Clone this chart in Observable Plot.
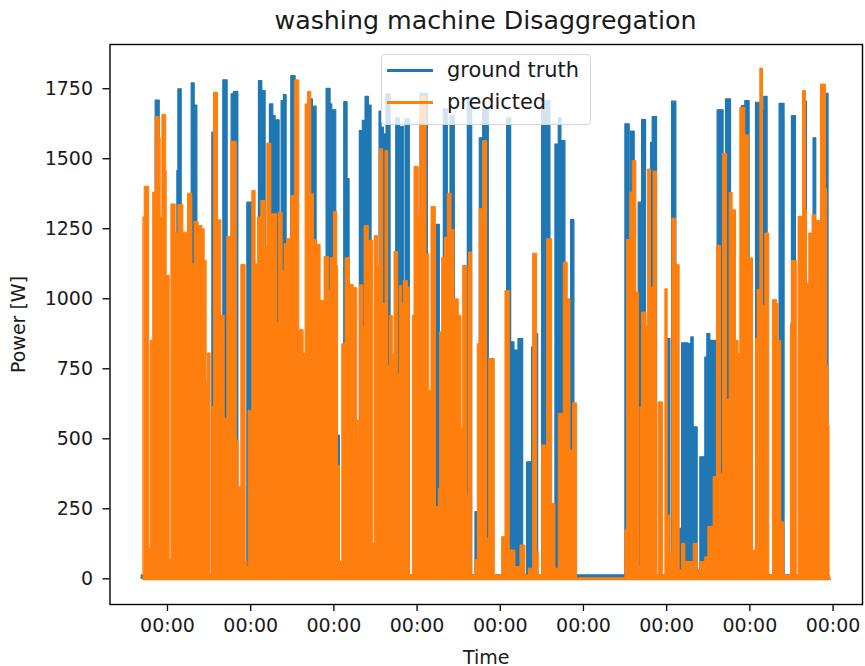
<!DOCTYPE html>
<html><head><meta charset="utf-8">
<script src="https://cdn.jsdelivr.net/npm/d3@7"></script>
<script src="https://cdn.jsdelivr.net/npm/@observablehq/plot@0.6"></script>
<style>
html,body{margin:0;padding:0;background:#fff;}
#wrap{position:relative;width:865px;height:666px;overflow:hidden;font-family:"DejaVu Sans",sans-serif;color:#1a1a1a;}
#title{position:absolute;left:109px;width:753px;top:7px;text-align:center;font-size:25.3px;line-height:28px;}
#legend{position:absolute;left:381px;top:54px;width:208px;height:69px;background:rgba(255,255,255,.8);border:1px solid #d5d5d5;border-radius:4px;font-size:20.9px;}
#legend span{position:absolute;left:65px;line-height:24px;white-space:nowrap;}
#legend i{position:absolute;left:5px;width:46px;height:2.6px;}
</style></head><body>
<div id="wrap"><div id="title">washing machine Disaggregation</div><div id="chart"></div>
<div id="legend"><i style="top:14px;background:#1f77b4"></i><span style="top:3px">ground truth</span><i style="top:46px;background:#ff7f0e"></i><span style="top:35px">predicted</span></div></div>
<script>
// sample counter: one reading every 17.3 minutes; counter 24.8 is the first midnight
const samplesPerDay = 83.25, firstMidnight = 24.8;
const seriesNames = ["ground truth", "predicted"];
const yTicks = [0,250,500,750,1000,1250,1500,1750];

const truthSample = [-1,13,17,34.7,35.7,39,49,52,54.7,69.7,71.3,80.7,85,89,91.3,95.7,104.7,109.7,116.3,119.7,123,127.3,130.7,133,137,139,141.3,144,148.7,153,168,170.3,174,184,188,189.7,193.7,195.3,197.3,201.7,205,207,217.3,220.3,223,226.3,229,237,239,241.3,244,248,253.7,257.3,261.3,263,267.3,278,285.3,294,297.3,301.3,305.3,308,312.3,325.3,329.7,333,335.3,337.3,340.7,346.3,364.7,368.7,372,376,380.7,384.7,389.7,392,394,395.7,399.7,408,413,416.3,419,423,428.7,432,483,487.3,488.7,492.3,496.3,499.7,503.7,508.7,510.3,514.7,525.3,528,529.7,534,537.3,539.7,546,549,551.3,555.3,558,563,565,568,574,575.3,581.3,583.7,588.7,599.7,603,607.3,613.7,618,622,625.3,637.3,642.3,649.7,653.7,663,664.7,671.3,674,683.7,686.3,687.3];
const truthPower = [12,1708,12,1456,1748,12,1769,1690,12,1593,12,1780,12,1730,1738,12,1343,12,1777,1742,12,1694,1652,1637,12,1706,1727,12,1795,12,1712,1686,12,1750,1694,1673,12,511,12,1702,1427,12,1599,1635,1721,1690,12,1668,1611,1587,1730,12,1644,1613,12,1641,12,1732,12,1264,12,1676,12,1652,12,1718,12,238,12,1573,1677,12,1644,844,815,856,12,416,827,12,874,12,1706,12,1551,1646,1563,12,1281,12,1623,12,1597,12,1343,1638,12,1557,1649,12,856,12,1704,12,178,841,838,862,541,30,434,790,874,850,12,1673,12,1712,12,1688,1706,12,1700,1670,1721,12,1696,12,1652,12,1704,12,1573,12,1732,12,12];

const predSample = [1,2,6.5,8,10.5,13,17,18,19.7,23.5,24,27,28.7,33,35.7,40.7,45.3,49.7,52,56,59.7,62,64,65.3,68,69.7,71.3,75.3,78.7,82,84.7,88.7,94,96,98.7,103,104.7,106,109.7,113,115.3,118.7,123,124.7,128.7,134.7,136.3,140,142,144.7,148.7,152.3,156.7,161,163,165.3,168.7,171.3,174.7,178,182,186.3,188,191.3,194.7,195.5,197.3,199.7,203,207.3,211,214.7,216.3,217.3,220.7,222,226.3,230.7,232.3,235.3,237.3,240.7,243,245.7,247.3,250.3,252,255.7,257.3,259.7,261.3,265.3,267.3,270.3,272,276.3,278,284,286.7,289,293.3,296.3,297.5,299.7,302.5,305.3,309,312,316.3,319,320.7,325,326.5,329.7,333,335.3,337.3,340.7,344.7,346.7,352.3,359.7,363,367.3,373,378,383,386.3,390.7,394.7,396.3,399.7,404.7,409.7,413,416.3,421.3,425.3,428,430.7,434.7,483,484.7,488,490.3,494,496.7,498,499.7,504,505.7,508.7,511.3,514.7,516.3,520.7,523,525.3,528,530,533.7,537.3,539.7,543,551.3,555.3,558,563,566,571.3,574.7,578.7,580.7,584.7,587.3,590.3,593.7,596.3,598,603,607,610.7,613.7,615.3,618,620.7,623,627,630.7,634.7,636.3,639,642,648.7,649.7,654.5,656.3,660.7,663.7,664.7,667,670.3,673.7,678.7,683.7,685,686.3,687.3];
const predPower = [1290,1400,107,850,1379,1649,1575,1290,1656,1456,1082,69,1337,1233,1335,1236,1375,1123,1274,1260,1248,1135,708,805,12,613,1736,1280,939,571,1221,1561,494,327,1121,60,42,600,1385,1123,1290,1349,1183,1554,1302,915,1308,1100,1195,1213,1367,1780,888,803,1694,1739,1373,1209,1192,993,1150,1028,1145,1310,1117,404,60,838,1145,1050,1038,565,476,1048,900,1260,1207,125,1224,1117,1534,981,1528,761,939,803,1167,731,1046,981,1064,1040,12,939,1471,1296,1720,1159,672,1328,256,321,880,1147,1218,1375,1245,998,939,535,1117,297,1165,12,66,838,1320,1563,143,785,12,149,1028,101,42,119,12,36,1161,95,12,476,1213,268,36,589,1129,998,458,627,0,173,1210,1379,1492,1022,42,612,951,903,1462,1040,1454,12,630,12,1034,226,89,1286,1121,30,125,60,125,30,60,77,185,363,1189,375,1518,639,1378,1316,850,803,1682,1583,1144,101,856,1031,1822,975,1233,12,995,981,850,202,12,909,1135,12,1293,1742,1316,1054,1233,1299,1278,1765,1391,761,547,0];

const midnight = Date.UTC(2018, 0, 1), dayMs = 864e5;
const toDate = n => new Date(midnight + (n - firstMidnight) / samplesPerDay * dayMs);
const table = (s, v) => s.map((n, i) => ({t: toDate(n), v: v[i]}));
const truth = table(truthSample, truthPower);
const pred = table(predSample, predPower);
const blue = "#1f77b4", orange = "#ff7f0e";

const chart = Plot.plot({
  width: 865, height: 666,
  marginLeft: 109.5, marginRight: 3, marginTop: 44, marginBottom: 62,
  style: {fontSize: "19px", fontFamily: "DejaVu Sans, sans-serif", color: "#1a1a1a", background: "#fff", overflow: "hidden"},
  x: {type: "utc", domain: [new Date(midnight - 0.691 * dayMs), new Date(midnight + 8.354 * dayMs)]},
  y: {domain: [-91.7, 1908]},
  marks: [
    Plot.areaY(truth, {x: "t", y: "v", curve: "step-after", fill: blue, stroke: blue, strokeWidth: 1.2, strokeLinejoin: "round"}),
    Plot.areaY(pred, {x: "t", y: "v", curve: "step-after", fill: orange, stroke: orange, strokeWidth: 1.0, strokeLinejoin: "round"}),
    Plot.lineY(pred.filter((d, i) => i === 0 || i === pred.length - 1), {x: "t", y: () => 0, stroke: orange, strokeWidth: 3}),
    Plot.axisX({ticks: d3.utcDay, tickFormat: "%H:%M", label: "Time", labelAnchor: "center", labelArrow: "none", tickSize: 7, tickPadding: 7, labelOffset: 59, stroke: "#000", strokeWidth: 1.3}),
    Plot.axisY({ticks: yTicks, tickFormat: d => String(d), label: "Power [W]", labelAnchor: "center", labelArrow: "none", tickSize: 7, tickPadding: 10, labelOffset: 99, stroke: "#000", strokeWidth: 1.3}),
    Plot.frame({stroke: "#000", strokeWidth: 1.4})
  ]
});
document.getElementById("chart").appendChild(chart);
</script></body></html>
